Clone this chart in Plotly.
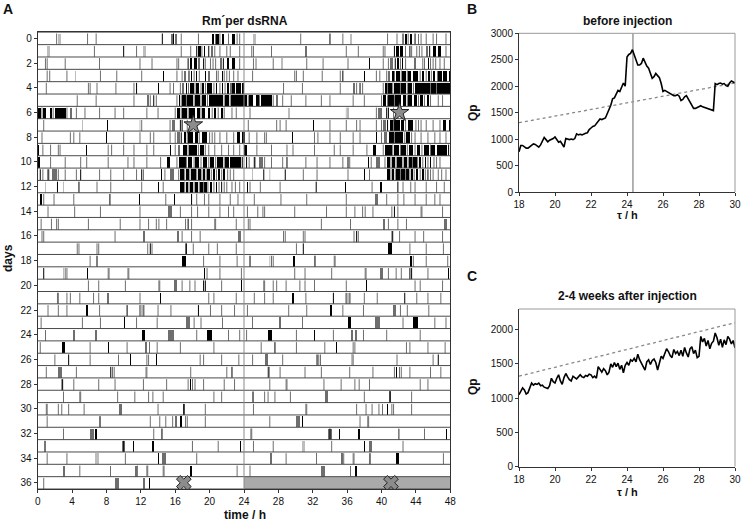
import numpy as np
import plotly.graph_objects as go

# ---------------- Actogram data (hours within each day; (t,c) = single bin, (t0,t1,c) = run of bins) ----
day00 = [(2.2,'g'),(2.4,2.7,'l'),(5.8,'g'),(6.8,'g'),(14.5,'k'),(15.5,15.7,'g'),(15.8,'k'),(16.0,16.2,'g'),(16.7,'g'),
         (18.7,'g'),(20.3,20.5,'k'),(20.6,20.7,'g'),(20.8,21.1,'k'),(21.2,'g'),(21.4,21.7,'k'),(22.2,'g'),(22.6,22.9,'k'),(23.2,'g'),(23.5,'g')]
day01 = [(1.1,1.4,'l'),(6.6,'g'),(10.0,'k'),(11.5,'g'),(12.3,12.6,'l'),(16.7,'g'),(17.8,'g'),(18.5,'k'),(18.7,19.0,'k'),(19.1,'g'),
         (19.3,19.5,'k'),(19.9,'k'),(20.2,20.4,'g'),(20.6,'g'),(21.2,'g'),(22.0,'g'),(22.4,'g'),(23.5,'g')]
day02 = [(0.9,'g'),(1.1,'g'),(3.2,'g'),(7.1,7.3,'g'),(11.9,'g'),(13.3,'g'),(16.2,'g'),(16.4,'g'),(17.5,'k'),(17.7,18.0,'k'),(18.2,18.5,'k'),
         (18.7,18.9,'g'),(19.3,'k'),(19.5,'g'),(20.1,'g'),(20.4,'g'),(20.7,'g'),(21.2,21.4,'g'),(21.6,'k'),(22.0,22.3,'k'),(22.6,22.9,'k'),(23.5,'g')]
day03 = [(1.1,'g'),(1.4,'g'),(3.4,'g'),(4.3,4.5,'l'),(7.3,'g'),(9.2,'g'),(12.1,'g'),(14.6,14.7,'k'),(16.2,'g'),(16.8,'g'),(17.0,17.3,'g'),
         (17.6,'k'),(17.8,18.0,'k'),(18.2,'g'),(18.4,18.5,'k'),(18.8,'g'),(19.5,19.6,'k'),(19.8,20.0,'g'),(20.8,'g'),(21.0,'g'),
         (21.4,21.5,'k'),(21.7,'g'),(22.0,'g'),(22.3,'g'),(22.8,'g'),(23.3,'g')]
day04 = [(1.0,'g'),(5.9,'g'),(6.1,'g'),(6.9,'g'),(9.1,'g'),(11.2,'g'),(11.5,'k'),(14.0,14.1,'k'),(15.4,'g'),(15.8,'g'),(16.6,'g'),
         (16.8,17.0,'g'),(17.2,17.4,'k'),(17.5,17.6,'g'),(17.7,18.2,'k'),(18.3,'g'),(18.4,18.8,'k'),(19.0,'g'),(19.1,19.4,'k'),
         (19.5,19.6,'g'),(19.7,20.3,'k'),(20.5,'g'),(20.7,20.9,'k'),(21.2,'g'),(21.4,21.6,'k'),(21.8,'g'),(22.0,22.2,'k'),
         (22.4,22.6,'g'),(22.6,23.0,'k'),(23.1,23.6,'k'),(23.8,24.0,'k')]
day05 = [(4.6,'g'),(6.8,'g'),(11.2,'g'),(12.7,12.9,'g'),(13.1,'g'),(13.5,'k'),(13.8,'g'),(16.2,'g'),(16.4,16.6,'k'),(16.7,'g'),
         (16.8,17.2,'k'),(17.3,'g'),(17.4,18.1,'k'),(18.2,'g'),(18.3,18.9,'k'),(19.0,'g'),(19.1,19.6,'k'),(19.7,19.8,'g'),
         (19.9,21.6,'k'),(21.7,'g'),(21.8,22.3,'k'),(22.4,'g'),(22.5,24.0,'k')]
day06 = [(0.0,0.4,'k'),(0.5,'g'),(0.6,1.0,'k'),(1.4,1.7,'k'),(1.8,'g'),(2.0,3.3,'k'),(3.4,'g'),(3.7,4.0,'g'),(4.5,'g'),(5.5,'g'),
         (7.2,'g'),(9.0,'g'),(10.0,'g'),(12.7,'g'),(14.0,'g'),(16.0,'g'),(16.2,16.5,'k'),(16.7,'g'),(16.8,17.4,'k'),(17.5,'g'),
         (17.6,18.3,'k'),(18.5,18.9,'k'),(19.0,'g'),(19.1,19.5,'k'),(19.8,20.1,'k'),(20.3,'g'),(20.5,20.8,'k'),(21.0,'g'),
         (21.3,21.5,'k'),(21.7,'g'),(22.6,'g'),(23.1,'g')]
day07 = [(0.7,'g'),(5.1,5.3,'l'),(8.1,8.2,'k'),(11.9,'l'),(12.1,'g'),(15.4,'g'),(15.6,16.0,'g'),(16.6,'k'),(16.8,'k'),(17.4,'g')]
day08 = [(0.5,'g'),(3.8,'g'),(4.2,'g'),(4.9,'g'),(8.0,8.1,'k'),(10.0,'g'),(11.9,'g'),(13.1,'g'),(13.5,'g'),(15.4,'g'),(16.0,'g'),
         (16.2,16.5,'g'),(16.7,'k'),(17.0,17.3,'k'),(17.4,'g'),(17.5,18.1,'k'),(18.3,18.6,'k'),(18.8,'g'),(19.1,19.7,'k'),(20.0,'g'),
         (20.3,'g'),(20.6,'g'),(21.2,'g'),(22.0,'g'),(22.8,'g'),(23.2,23.5,'k'),(23.8,24.0,'k')]
day09 = [(0.0,0.1,'k'),(0.6,'g'),(1.5,'g'),(2.4,'g'),(2.6,'g'),(5.6,5.7,'k'),(8.2,'g'),(8.6,'g'),(10.0,'g'),(11.2,'g'),(12.7,'g'),
         (13.5,'g'),(15.4,15.5,'k'),(16.0,'g'),(16.3,16.6,'g'),(16.9,17.4,'k'),(17.5,'g'),(17.6,18.5,'k'),(18.7,'g'),(18.9,19.3,'k'),
         (19.5,'g'),(19.9,'g'),(20.6,'g'),(21.4,'g'),(22.2,'g'),(22.8,'g'),(23.5,'g')]
day10 = [(0.0,0.3,'k'),(1.5,'g'),(3.2,'g'),(5.0,'g'),(5.7,'g'),(8.2,'g'),(10.5,'g'),(11.2,'g'),(12.7,'g'),(14.3,'g'),(15.0,15.4,'k'),
         (16.2,'g'),(16.4,17.2,'k'),(17.3,'g'),(17.5,18.0,'k'),(18.2,'g'),(18.3,18.8,'k'),(19.0,'g'),(19.2,19.7,'k'),(19.9,'g'),
         (20.1,20.5,'k'),(20.7,'g'),(20.9,21.5,'k'),(21.7,'g'),(21.8,22.2,'k'),(22.4,23.6,'k'),(23.8,'k')]
day11 = [(0.3,'k'),(0.6,'g'),(1.2,'k'),(1.3,'g'),(1.7,2.2,'g'),(2.4,'g'),(3.2,'g'),(4.5,'g'),(5.0,'k'),(7.2,'g'),(8.5,'g'),(10.0,'g'),
         (11.5,'g'),(12.1,'k'),(12.3,'g'),(14.4,14.5,'k'),(14.8,'g'),(15.4,15.8,'g'),(16.4,'g'),(16.6,17.0,'k'),(17.1,'g'),
         (17.2,17.6,'k'),(17.7,'g'),(17.8,18.4,'k'),(18.5,'g'),(18.6,19.0,'k'),(19.1,'g'),(19.2,19.5,'k'),(19.6,'g'),(19.7,20.1,'k'),
         (20.2,'g'),(20.4,20.6,'k'),(20.8,'g'),(21.0,21.2,'k'),(21.4,'g'),(21.6,21.8,'k'),(22.1,'g'),(22.4,'g'),(22.8,'g')]
day12 = [(0.9,1.0,'l'),(2.3,'k'),(3.0,'l'),(4.8,'k'),(6.9,'g'),(8.5,'g'),(12.1,'g'),(14.0,14.1,'k'),(14.6,'g'),(16.6,17.0,'k'),
         (17.1,'g'),(17.2,17.5,'k'),(17.6,'g'),(17.7,18.1,'k'),(18.2,'g'),(18.3,18.7,'k'),(18.8,'g'),(18.9,19.2,'k'),(19.3,'g'),
         (19.4,19.7,'k'),(19.8,'g'),(20.0,20.3,'k'),(20.5,'g'),(20.7,20.9,'k'),(21.1,'g'),(21.4,'k'),(21.7,'g'),(22.0,'g'),
         (22.6,'g'),(23.0,'g'),(23.5,'g')]
day13 = [(0.3,0.5,'k'),(0.7,'g'),(1.9,'g'),(4.2,'g'),(8.4,'k'),(11.8,11.9,'k'),(14.9,'g'),(15.8,16.0,'k'),(17.9,'k'),(18.5,'g'),
         (19.4,'g'),(19.9,'g'),(21.2,'g'),(22.4,'g'),(23.3,'g')]
day14 = [(1.2,'g'),(4.3,'g'),(7.3,'g'),(11.9,'g'),(15.2,15.6,'g'),(16.6,'g'),(17.9,'g'),(18.6,'g'),(19.9,'g'),(21.2,'g'),(22.2,'g'),(22.8,'g')]
day15 = [(0.4,'g'),(1.6,'g'),(2.2,'g'),(2.4,'g'),(5.9,'g'),(9.6,'g'),(11.9,'g'),(12.9,'g'),(13.8,'g'),(14.1,'g'),(15.0,'g'),(17.2,'g'),
         (17.5,'k'),(17.9,'g'),(20.6,'g'),(20.7,'g'),(23.1,'g')]
day16 = [(0.5,'g'),(0.7,'g'),(9.0,'g'),(12.3,12.5,'g'),(16.2,16.4,'g'),(16.8,'g'),(17.9,'g'),(18.9,'g'),(23.3,23.6,'g')]
day17 = [(4.6,'g'),(4.8,'g'),(6.9,'g'),(7.1,'g'),(12.8,'g'),(13.1,'k'),(13.3,'g'),(17.2,'g'),(17.3,'k'),(18.1,'g'),(19.9,'g'),(20.9,'g'),(23.1,'g')]
day18 = [(6.1,'g'),(6.9,'k'),(16.8,17.2,'k'),(19.3,'g'),(21.2,'g'),(23.2,'g')]
day19 = [(0.7,'k'),(3.0,'l'),(3.2,'g'),(3.4,'g'),(5.7,5.9,'k'),(8.2,'g'),(8.3,'g'),(10.5,'g'),(10.6,'g'),(19.3,19.5,'k'),(19.7,'g'),(21.2,'g'),(23.7,'g')]
day20 = [(5.9,'g'),(7.1,'g'),(10.2,'g'),(14.1,'g'),(14.2,'g'),(15.8,16.2,'g'),(16.8,'g'),(17.7,'g'),(18.3,'g'),(19.3,'k'),(19.5,'k'),(21.4,'g'),(23.7,23.8,'k')]
day21 = [(2.3,'g'),(2.4,'g'),(3.4,'g'),(3.8,'g'),(4.9,'g'),(6.5,'g'),(7.1,'g'),(8.1,8.3,'g'),(11.9,'g'),(14.2,14.3,'k'),(19.9,'g'),(20.5,'g'),(23.1,'g')]
day22 = [(1.2,'g'),(2.4,'g'),(3.4,'g'),(5.6,5.8,'k'),(7.2,'g'),(10.4,'k'),(11.8,12.5,'l'),(11.9,'g'),(12.3,'g'),(14.0,'g'),(15.5,'g'),
         (18.7,'k'),(20.1,'g'),(21.4,'g'),(22.9,'g')]
day23 = [(0.4,'g'),(5.2,'g'),(7.3,'g'),(10.0,10.2,'k'),(11.5,'g'),(13.9,'g'),(17.3,17.7,'g'),(18.2,'g'),(19.0,'g'),(21.5,'g')]
day24 = [(0.9,1.0,'g'),(4.1,4.3,'g'),(6.7,6.9,'g'),(12.1,12.5,'k'),(15.2,15.8,'g'),(18.5,'g'),(19.7,20.3,'k'),(22.2,'g'),(23.5,'g')]
day25 = [(0.3,'g'),(2.8,3.2,'k'),(6.1,'g'),(8.2,8.3,'k'),(10.4,'g'),(12.5,12.7,'g'),(12.9,13.1,'g'),(13.9,'g'),(16.6,'g'),(20.5,'g')]
day26 = [(2.0,'g'),(3.6,'k'),(6.1,'g'),(9.4,'g'),(10.7,10.8,'k'),(12.7,'g'),(12.9,'g'),(13.8,13.9,'k'),(18.9,'g'),(19.3,'g'),(21.4,'g'),(23.4,'g')]
day27 = [(1.0,'g'),(2.4,2.8,'g'),(4.5,'g'),(8.5,'k'),(8.7,'g'),(8.9,'g'),(12.5,12.7,'l'),(12.7,'g'),(17.8,'g'),(22.0,'g'),(22.6,'k')]
day28 = [(2.8,'g'),(2.9,'k'),(4.2,'g'),(7.1,'g'),(9.0,'g'),(12.3,'g'),(15.0,'g'),(17.5,'g'),(17.7,17.8,'k'),(18.0,18.1,'g'),(18.3,'g'),
         (19.3,'g'),(21.7,'g'),(22.9,'g')]
day29 = [(3.0,'g'),(4.9,'g'),(5.0,'g'),(9.3,'g'),(11.3,'g'),(12.9,'g'),(13.4,'g'),(14.6,'g'),(20.5,'g'),(21.4,'g')]
day30 = [(1.0,'g'),(1.1,'g'),(2.4,'g'),(2.8,'g'),(3.6,'g'),(5.4,'g'),(9.4,9.8,'g'),(14.0,'g'),(16.9,17.1,'g'),(17.0,'k'),(19.5,'g')]
day31 = [(1.1,'g'),(7.2,'g'),(7.3,'g'),(13.1,'g'),(14.2,'g'),(14.9,'g'),(15.7,'g'),(16.0,16.2,'g'),(16.6,16.8,'k'),(17.2,'g'),(17.4,'g'),(19.5,'g')]
day32 = [(3.0,'g'),(6.1,6.5,'g'),(6.7,6.9,'k'),(13.5,'g'),(14.4,'g'),(14.5,'g')]
day33 = [(0.8,'g'),(0.9,'g'),(9.8,10.2,'g'),(10.0,'k'),(11.1,11.2,'k'),(13.3,13.5,'k'),(17.9,18.1,'l'),(18.0,'g'),(21.0,'g'),(23.5,23.6,'k')]
day34 = [(1.1,'g'),(3.4,'g'),(6.7,7.1,'l'),(10.2,'g'),(14.0,14.1,'k'),(14.5,14.9,'g'),(18.5,'g')]
day35 = [(3.0,3.2,'g'),(4.9,'g'),(8.4,8.5,'g'),(11.3,11.5,'g'),(11.6,'g'),(12.7,'g'),(12.8,'g'),(14.6,'g'),(14.7,'g'),(17.7,18.0,'k'),(23.2,'g')]
day36 = [(0.7,'g'),(9.0,9.4,'g'),(12.3,12.5,'g'),(12.9,13.1,'k')]

days = [day00, day01, day02, day03, day04, day05, day06, day07, day08, day09, day10, day11, day12,
        day13, day14, day15, day16, day17, day18, day19, day20, day21, day22, day23, day24, day25,
        day26, day27, day28, day29, day30, day31, day32, day33, day34, day35, day36]
missing_rows = [36]            # right half of the last row has no data (day 37)
star_time = [18.1, 42.1]
star_row = [7, 6]
cross_time = [17.0, 41.1]
cross_row = [36, 36]

# ---------------- Periodogram data ----------------
tau = np.round(np.arange(18.0, 30.0001, 0.1), 1)
qp_before = [760, 880, 880, 850, 830, 830, 860, 880, 910, 900,
             870, 850, 890, 960, 1030, 990, 950, 980, 990, 1010,
             1040, 980, 940, 960, 900, 850, 1010, 1000, 990, 1000,
             990, 1010, 1100, 1080, 1090, 1080, 1100, 1110, 1120, 1180,
             1210, 1240, 1250, 1290, 1330, 1380, 1370, 1390, 1400, 1480,
             1560, 1640, 1760, 1780, 1850, 1920, 1900, 1990, 2060, 2000,
             2550, 2600, 2620, 2690, 2600, 2500, 2400, 2400, 2430, 2530,
             2450, 2380, 2340, 2240, 2150, 2180, 2240, 2200, 2160, 2050,
             1900, 1920, 1900, 1880, 1850, 1830, 1820, 1820, 1840, 1810,
             1730, 1750, 1800, 1820, 1760, 1700, 1620, 1580, 1580, 1600,
             1620, 1630, 1610, 1600, 1590, 1580, 1570, 1560, 1540, 2050,
             2030, 2050, 2060, 2040, 2050, 2010, 2000, 2060, 2100, 2080, 2060]
qp_after = [1050, 1100, 1150, 1120, 1060, 1080, 1160, 1220, 1190, 1210,
            1200, 1220, 1180, 1190, 1160, 1150, 1140, 1180, 1290, 1240,
            1220, 1290, 1340, 1250, 1200, 1300, 1360, 1310, 1270, 1250,
            1320, 1300, 1280, 1310, 1340, 1310, 1300, 1330, 1320, 1350,
            1340, 1300, 1320, 1290, 1460, 1420, 1380, 1430, 1400, 1340,
            1380, 1500, 1450, 1520, 1460, 1510, 1420, 1480, 1370, 1480,
            1520, 1480, 1560, 1540, 1580, 1530, 1640, 1560, 1510, 1450,
            1410, 1530, 1560, 1490, 1550, 1570, 1520, 1410, 1520, 1610,
            1580, 1640, 1720, 1680, 1620, 1590, 1710, 1650, 1680, 1620,
            1700, 1610, 1740, 1660, 1600, 1720, 1750, 1650, 1700, 1590,
            1610, 1900, 1820, 1870, 1760, 1840, 1720, 1800, 1830, 1950,
            1880, 1770, 1860, 1740, 1850, 1780, 1900, 1860, 1790, 1840, 1730]
sig_tau = [18, 30]
sig_before = [1310, 2060]
sig_after = [1320, 2100]
peak_before = 24.33

# ---------------- build actogram marks ----------------
COL = {'k': '#000000', 'g': '#6e6e6e', 'l': '#bdbdbd'}
H = 0.9
blocks = {c: dict(x=[], w=[], base=[]) for c in COL}
ticks = {c: dict(x=[], y=[]) for c in COL}
n = len(days)
for r in range(n):
    for off, d in ((0, r), (24, r + 1)):
        if d >= n:
            continue
        for ev in days[d]:
            base = r + 0.5
            if len(ev) == 2:
                t, c = ev
                ticks[c]['x'] += [t + off, t + off, None]
                ticks[c]['y'] += [base, base - H, None]
            else:
                t0, t1, c = ev
                blocks[c]['x'].append((t0 + t1) / 2 + off)
                blocks[c]['w'].append(max(t1 - t0, 0.1))
                blocks[c]['base'].append(base)

fig = go.Figure()
for c in ['l', 'g', 'k']:
    b = blocks[c]
    fig.add_trace(go.Bar(x=b['x'], y=[-H] * len(b['x']), base=b['base'], width=b['w'],
                         marker=dict(color=COL[c], line=dict(width=0)), xaxis='x', yaxis='y',
                         hoverinfo='skip', showlegend=False))
for c in ['l', 'g', 'k']:
    tk = ticks[c]
    fig.add_trace(go.Scatter(x=tk['x'], y=tk['y'], mode='lines', line=dict(color=COL[c], width=1),
                             xaxis='x', yaxis='y', hoverinfo='skip', showlegend=False))
# missing data block
fig.add_trace(go.Bar(x=[36] * len(missing_rows), y=[-1] * len(missing_rows),
                     base=[r + 0.5 for r in missing_rows], width=[24] * len(missing_rows),
                     marker=dict(color='#aaaaaa', line=dict(width=0)), xaxis='x', yaxis='y',
                     hoverinfo='skip', showlegend=False))
# row baselines
lx, ly = [], []
for r in range(-1, n):
    lx += [0, 48, None]
    ly += [r + 0.5, r + 0.5, None]
fig.add_trace(go.Scatter(x=lx, y=ly, mode='lines', line=dict(color='#4a4a4a', width=1),
                         xaxis='x', yaxis='y', hoverinfo='skip', showlegend=False))
fig.add_trace(go.Scatter(x=[24, 24], y=[-0.5, n - 0.5], mode='lines', line=dict(color='#8a8a8a', width=1),
                         xaxis='x', yaxis='y', hoverinfo='skip', showlegend=False))
fig.add_trace(go.Scatter(x=star_time, y=star_row, mode='markers',
                         marker=dict(symbol='star', size=14, color='#8c8c8c', line=dict(color='#222', width=1)),
                         xaxis='x', yaxis='y', hoverinfo='skip', showlegend=False))
fig.add_trace(go.Scatter(x=cross_time, y=cross_row, mode='markers',
                         marker=dict(symbol='x', size=13, color='#8c8c8c', line=dict(color='#222', width=1)),
                         xaxis='x', yaxis='y', hoverinfo='skip', showlegend=False))

# ---------------- periodograms ----------------
fig.add_trace(go.Scatter(x=sig_tau, y=sig_before, mode='lines', line=dict(color='#888', width=1.3, dash='dot'),
                         xaxis='x2', yaxis='y2', hoverinfo='skip', showlegend=False))
fig.add_trace(go.Scatter(x=[peak_before, peak_before], y=[0, 3000], mode='lines', line=dict(color='#999', width=1.5),
                         xaxis='x2', yaxis='y2', hoverinfo='skip', showlegend=False))
fig.add_trace(go.Scatter(x=tau, y=qp_before, mode='lines', line=dict(color='#000', width=1.6),
                         xaxis='x2', yaxis='y2', hoverinfo='skip', showlegend=False))
fig.add_trace(go.Scatter(x=sig_tau, y=sig_after, mode='lines', line=dict(color='#888', width=1.3, dash='dot'),
                         xaxis='x3', yaxis='y3', hoverinfo='skip', showlegend=False))
fig.add_trace(go.Scatter(x=tau, y=qp_after, mode='lines', line=dict(color='#000', width=1.6),
                         xaxis='x3', yaxis='y3', hoverinfo='skip', showlegend=False))

W, Hpx = 741, 523
def px(x): return x / W
def py(y): return 1 - y / Hpx

FONT = 'Liberation Sans, Arial, sans-serif'
tickfont = dict(family=FONT, size=10, color='#111')
ax_common = dict(showgrid=False, zeroline=False, ticks='outside', ticklen=3, tickwidth=1, tickcolor='#333',
                 showline=True, linecolor='#333', linewidth=1, tickfont=tickfont, fixedrange=True,
                 automargin=False)

fig.update_layout(
    template='none',
    width=W, height=Hpx, margin=dict(l=0, r=0, t=0, b=0, pad=0, autoexpand=False),
    paper_bgcolor='white', plot_bgcolor='white', barmode='overlay', bargap=0, showlegend=False,
    xaxis=dict(domain=[px(37.7), px(450.3)], anchor='y', range=[0, 48], tickvals=list(range(0, 49, 4)),
               mirror=True, **ax_common),
    yaxis=dict(domain=[py(489), py(32.3)], anchor='x', range=[n - 0.5, -0.5], tickvals=list(range(0, n, 2)),
               mirror=True, **ax_common),
    xaxis2=dict(domain=[px(519), px(735)], anchor='y2', range=[18, 30], dtick=2, **ax_common),
    yaxis2=dict(domain=[py(192), py(33.3)], anchor='x2', range=[0, 3000], dtick=500, **ax_common),
    xaxis3=dict(domain=[px(519), px(735)], anchor='y3', range=[18, 30], dtick=2, **ax_common),
    yaxis3=dict(domain=[py(466.7), py(309)], anchor='x3', range=[0, 2300], tickvals=[0, 500, 1000, 1500, 2000], **ax_common),
)

# grey top/right frame for periodograms
for xr, yr in (('x2', 'y2'), ('x3', 'y3')):
    fig.add_shape(type='line', xref=xr + ' domain', yref=yr + ' domain', x0=0, x1=1, y0=1, y1=1,
                  line=dict(color='#999', width=1))
    fig.add_shape(type='line', xref=xr + ' domain', yref=yr + ' domain', x0=1, x1=1, y0=0, y1=1,
                  line=dict(color='#999', width=1))

def ann(text, x, y, size=12, bold=True, angle=0):
    fig.add_annotation(text=('<b>%s</b>' % text) if bold else text, x=px(x), y=py(y), xref='paper', yref='paper',
                       showarrow=False, xanchor='center', yanchor='middle', textangle=angle,
                       font=dict(family=FONT, size=size, color='#111'))

ann('A', 8, 9, size=14)
ann('B', 472, 9, size=14)
ann('C', 472, 276, size=14)
ann('Rm´per dsRNA', 245, 21)
ann('before injection', 627, 21)
ann('2-4 weeks after injection', 627, 296)
ann('days', 8, 258, angle=-90)
ann('time / h', 245, 515)
ann('Qp', 473, 113, angle=-90)
ann('Qp', 473, 387, angle=-90)
ann('τ / h', 627, 215, size=11)
ann('τ / h', 627, 492, size=11)

fig.write_html('out.html', config={'displayModeBar': False, 'staticPlot': True},
               post_script="document.body.style.margin='0';document.body.style.overflow='hidden';"
                           "document.documentElement.style.overflow='hidden';")
